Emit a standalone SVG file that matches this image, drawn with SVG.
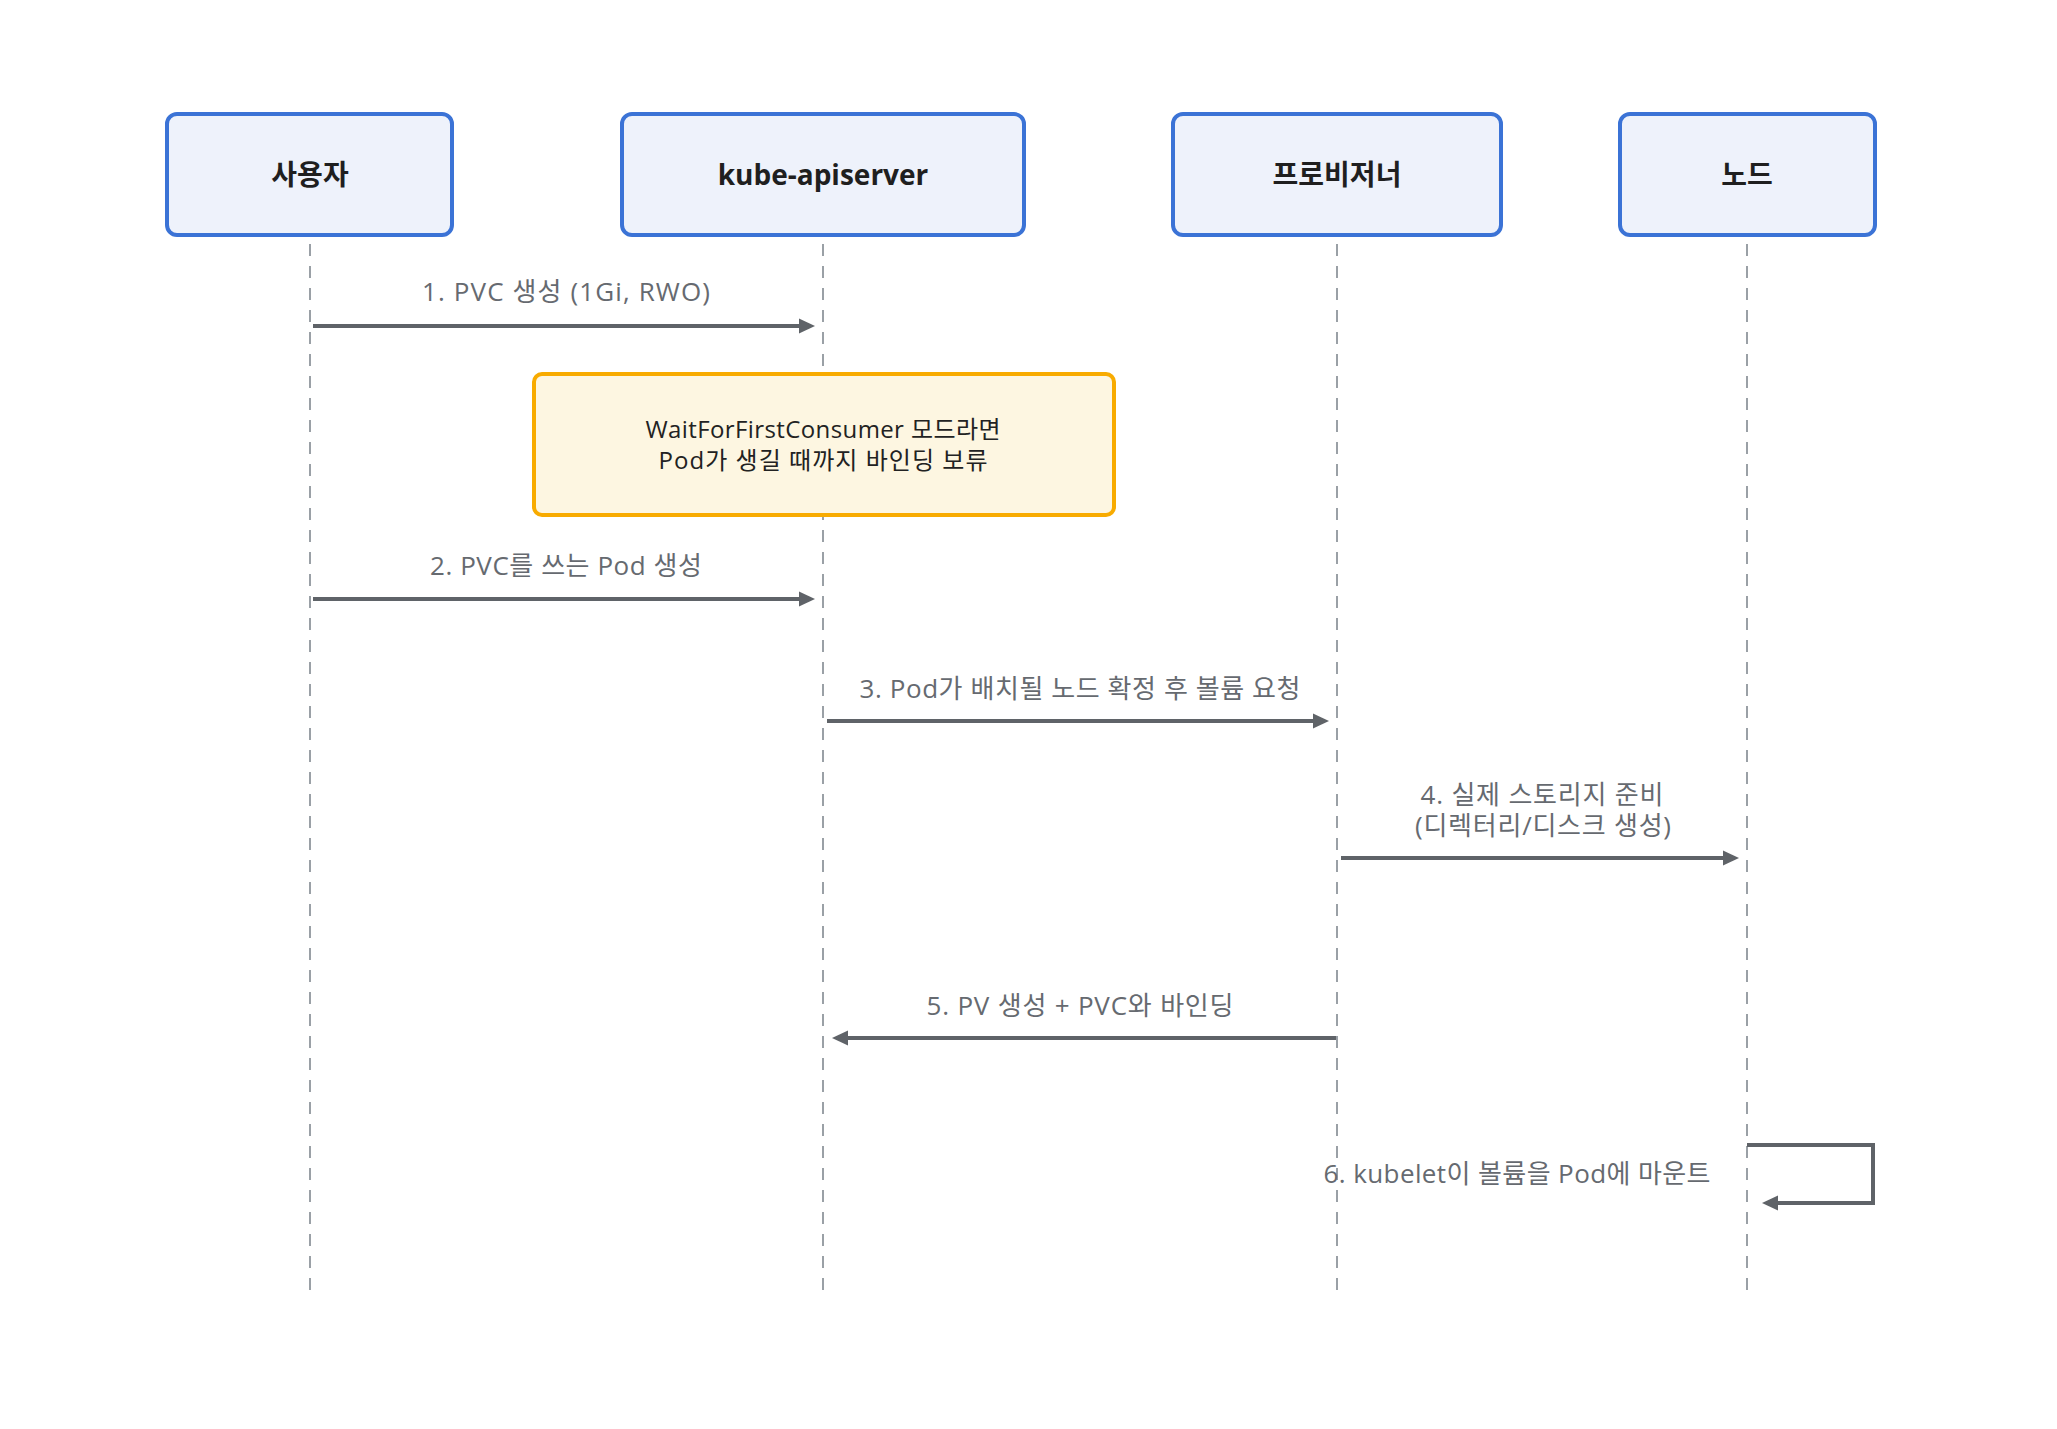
<svg xmlns="http://www.w3.org/2000/svg" width="2057" height="1429" viewBox="0 0 2057 1429">
<style>
  .actor rect { fill: #eef2fb; stroke: #3b73d6; stroke-width: 4; }
  .actor text { font-family: "Open Sans", "Noto Sans CJK KR", sans-serif; font-weight: bold; font-size: 28px; fill: #1f1f1f; text-anchor: middle; dominant-baseline: central; }
  .life { stroke: #9aa0a6; stroke-width: 2; stroke-dasharray: 12 10; fill: none; }
  .msg { stroke: #5f6368; stroke-width: 4; fill: none; }
  .lbl { font-family: "Open Sans", "Noto Sans CJK KR", sans-serif; font-size: 26px; fill: #666a70; text-anchor: middle; dominant-baseline: central; }
  .note rect { fill: #fdf6e1; stroke: #f8ab00; stroke-width: 4; }
  .note text { font-family: "Open Sans", "Noto Sans CJK KR", sans-serif; font-size: 24px; fill: #222; text-anchor: middle; dominant-baseline: central; }
</style>
<defs>
  <marker id="ah" markerUnits="userSpaceOnUse" viewBox="0 0 16 16" markerWidth="16" markerHeight="16" refX="8" refY="8" orient="auto">
    <path d="M0,0.5 L16,8 L0,15.5 z" fill="#5f6368"/>
  </marker>
</defs>
<rect width="2057" height="1429" fill="#ffffff"/>
<g id="lifelines">
  <line class="life" x1="310" y1="1290" x2="310" y2="236"/>
  <line class="life" x1="823" y1="1290" x2="823" y2="236"/>
  <line class="life" x1="1337" y1="1290" x2="1337" y2="236"/>
  <line class="life" x1="1747" y1="1290" x2="1747" y2="236"/>
</g>
<g id="actor-user" class="actor">
  <rect x="167" y="114" width="285" height="121" rx="10"/>
  <text x="310" y="174">사용자</text>
</g>
<g id="actor-apiserver" class="actor">
  <rect x="622" y="114" width="402" height="121" rx="10"/>
  <text x="823" y="174">kube-apiserver</text>
</g>
<g id="actor-provisioner" class="actor">
  <rect x="1173" y="114" width="328" height="121" rx="10"/>
  <text x="1337" y="174">프로비저너</text>
</g>
<g id="actor-node" class="actor">
  <rect x="1620" y="114" width="255" height="121" rx="10"/>
  <text x="1747" y="174">노드</text>
</g>
<g id="note-wffc" class="note">
  <rect x="534" y="374" width="580" height="141" rx="8"/>
  <text x="823" y="428" textLength="355" lengthAdjust="spacing">WaitForFirstConsumer 모드라면</text>
  <text x="823" y="459" textLength="329" lengthAdjust="spacing">Pod가 생길 때까지 바인딩 보류</text>
</g>
<g id="connectors">
  <line class="msg" x1="313" y1="326" x2="807" y2="326" marker-end="url(#ah)"/>
  <line class="msg" x1="313" y1="599" x2="807" y2="599" marker-end="url(#ah)"/>
  <line class="msg" x1="827" y1="721" x2="1321" y2="721" marker-end="url(#ah)"/>
  <line class="msg" x1="1341" y1="858" x2="1731" y2="858" marker-end="url(#ah)"/>
  <line class="msg" x1="1336" y1="1038" x2="840" y2="1038" marker-end="url(#ah)"/>
  <path class="msg" d="M1747,1145 L1873,1145 L1873,1203 L1770,1203" marker-end="url(#ah)"/>
</g>
<g id="labels">
  <text class="lbl" x="566" y="291" textLength="288" lengthAdjust="spacing">1. PVC 생성 (1Gi, RWO)</text>
  <text class="lbl" x="566" y="565" textLength="272" lengthAdjust="spacing">2. PVC를 쓰는 Pod 생성</text>
  <text class="lbl" x="1080" y="688" textLength="441" lengthAdjust="spacing">3. Pod가 배치될 노드 확정 후 볼륨 요청</text>
  <text class="lbl"><tspan x="1542" y="794" textLength="243" lengthAdjust="spacing">4. 실제 스토리지 준비</tspan><tspan x="1543" y="825" textLength="256" lengthAdjust="spacing">(디렉터리/디스크 생성)</tspan></text>
  <text class="lbl" x="1080" y="1005" textLength="307" lengthAdjust="spacing">5. PV 생성 + PVC와 바인딩</text>
  <text class="lbl" x="1517" y="1173" textLength="387" lengthAdjust="spacing">6. kubelet이 볼륨을 Pod에 마운트</text>
</g>
</svg>
